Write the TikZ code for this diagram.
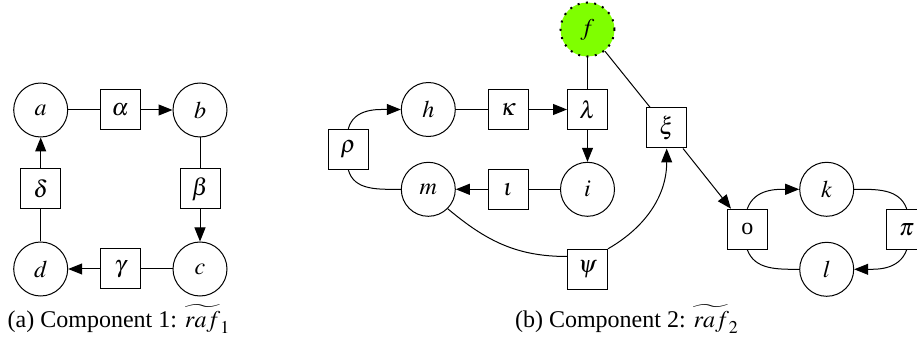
\documentclass[tikz,border=0pt]{standalone}
\usepackage{amsmath}
\usepackage{mathptmx}
\usepackage[no-math]{fontspec}
\setmainfont{Liberation Serif}
\usepackage{tikz}
\usetikzlibrary{arrows.meta}
\definecolor{FoodGreen}{HTML}{7FFF00}
\newcommand\capa{(a) Component 1: $\widetilde{raf}_1$}
\newcommand\capb{(b) Component 2: $\widetilde{raf}_2$}
\tikzstyle{mol} = [circle, draw, minimum size=27pt, inner sep=0pt]
\tikzstyle{rxn} = [rectangle, draw, minimum size=20pt, inner sep=0pt]
\tikzstyle{food} = [mol, fill=FoodGreen, line width=1pt, dash pattern=on 1pt off 3.2pt]
\tikzset{>={Triangle[length=7pt,width=5.5pt]}, every picture/.style={line width=0.5pt}}

\begin{document}
\begin{tikzpicture}[x=0.5pt, y=-0.5pt, font=\fontsize{12}{14}\selectfont]
\useasboundingbox (0,0) rectangle (917,342);
% component 1
\node[mol] (a) at (40.7, 110) {$a$};
\node[rxn] (alpha) at (120.3, 110) {$\alpha$};
\node[mol] (b) at (200, 110) {$b$};
\node[rxn] (beta) at (200, 189) {$\beta$};
\node[mol] (c) at (200, 269) {$c$};
\node[rxn] (gamma) at (120.3, 269) {$\gamma$};
\node[mol] (d) at (40.7, 269) {$d$};
\node[rxn] (delta) at (40.7, 189) {$\delta$};
\draw (a) -- (alpha);
\draw [->] (alpha) -- (b);
\draw (b) -- (beta);
\draw [->] (beta) -- (c);
\draw (c) -- (gamma);
\draw [->] (gamma) -- (d);
\draw (d) -- (delta);
\draw [->] (delta) -- (a);
% component 2
\node[food] (f) at (587.5, 29.5) {$f$};
\node[mol] (h) at (428.3, 109.5) {$h$};
\node[rxn] (kappa) at (508.2, 109.5) {$\kappa$};
\node[rxn] (lambda) at (587.5, 109.5) {$\lambda$};
\node[mol] (i) at (587.5, 189.3) {$i$};
\node[rxn] (iota) at (508.2, 189.3) {$\iota$};
\node[mol] (m) at (428.3, 189.3) {$m$};
\node[rxn] (rho) at (348.3, 149.3) {$\rho$};
\node[rxn] (psi) at (587.5, 269.3) {$\psi$};
\node[rxn] (xi) at (666.7, 128) {$\xi$};
\node[rxn] (o) at (747.3, 229.2) {o};
\node[mol] (k) at (826.7, 189.3) {$k$};
\node[mol] (l) at (826.7, 269.3) {$l$};
\node[rxn] (pi) at (906.7, 229.3) {$\pi$};
\draw (h) -- (kappa);
\draw [->] (kappa) -- (lambda);
\draw (f) -- (lambda);
\draw [->] (lambda) -- (i);
\draw (i) -- (iota);
\draw [->] (iota) -- (m);
\draw (m.west) to[out=180, in=-75] (rho.south);
\draw [->] (rho.north) to[out=75, in=180] (h.west);
\draw (m.south east) to[out=-40, in=180] (psi.148);
\draw [->] (psi.north east) to[out=30, in=-90] (xi.south);
\draw (f) -- (xi);
\draw [->] (xi) -- (o);
\draw [->] (o.north) to[out=70, in=180] (k.west);
\draw (k.east) to[out=0, in=110] (pi.north);
\draw [->] (pi.south) to[out=-110, in=0] (l.east);
\draw (l.west) to[out=180, in=-70] (o.south);
% captions
\node[anchor=base] (capa) at (119, 328) {\capa};
\node[anchor=base] (capb) at (627, 328) {\capb};
\end{tikzpicture}
\end{document}
